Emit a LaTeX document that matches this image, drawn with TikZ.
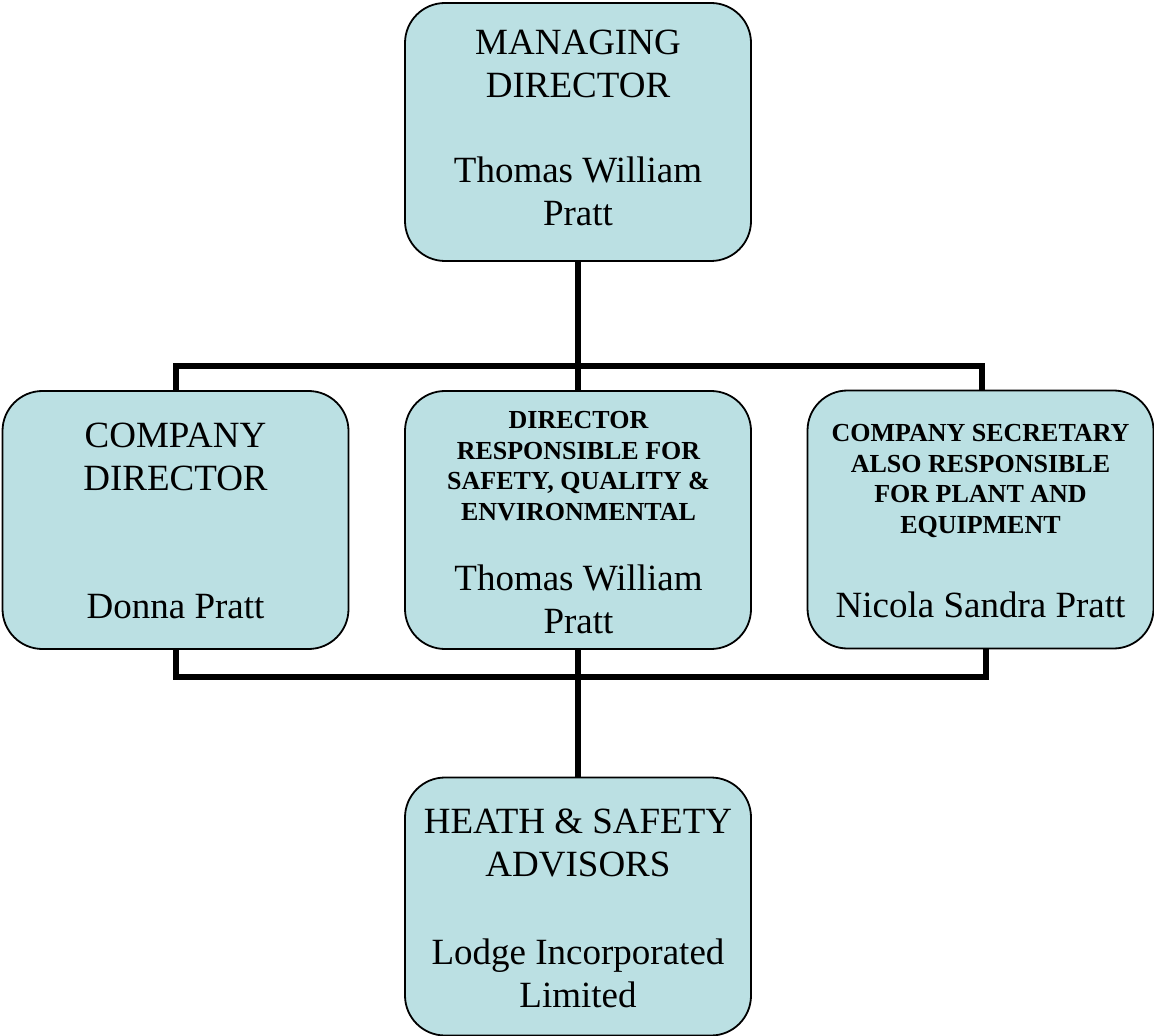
\documentclass[tikz,border=0pt]{standalone}
\usepackage{fontspec}
\setmainfont{Liberation Serif}
\definecolor{boxfill}{RGB}{187,224,227}
\tikzset{
  orgbox/.style={draw=black, line width=0.9pt, fill=boxfill, rounded corners=20pt,
    minimum width=173pt, minimum height=129pt, inner sep=0pt},
  bigtext/.style={font=\fontsize{18.5pt}{21.5pt}\selectfont, align=center, anchor=north, inner sep=0pt},
  smalltext/.style={font=\fontsize{13pt}{15.4pt}\selectfont\bfseries, align=center, anchor=north, inner sep=0pt},
  conn/.style={draw=black, line width=3pt, line join=miter}
}
\begin{document}
\begin{tikzpicture}[x=0.5pt, y=-0.5pt]
\useasboundingbox (0,0) rectangle (1154,1036);
% boxes
\node[orgbox] (md) at (578,132) {};
\node[orgbox] (cd) at (175.5,520) {};
\node[orgbox] (dr) at (578,520) {};
\node[orgbox] (cs) at (980.5,519.5) {};
\node[orgbox] (hs) at (578,906.5) {};
% connectors
\draw[conn] (md.south) -- (dr.north);
\draw[conn] (cd.north) -- ++(0,-24) -| ([xshift=0.75pt]cs.north);
\draw[conn] (cd.south) -- ++(0,27) -| ([xshift=2.75pt]cs.south);
\draw[conn] (dr.south) -- (hs.north);
% texts
\node[bigtext] (mdT) at (578,24) {\strut MANAGING\\DIRECTOR};
\node[bigtext] (mdN) at (578,152) {\strut Thomas William\\Pratt};
\node[bigtext] (cdT) at (175.5,417) {\strut COMPANY\\DIRECTOR};
\node[bigtext] (cdN) at (175.5,588) {\strut Donna Pratt};
\node[smalltext] (drT) at (578.5,406.4) {\strut DIRECTOR\\RESPONSIBLE FOR\\SAFETY, QUALITY \&\\ENVIRONMENTAL};
\node[bigtext] (drN) at (578.5,560) {\strut Thomas William\\Pratt};
\node[smalltext] (csT) at (980.5,419.4) {\strut COMPANY SECRETARY\\ALSO RESPONSIBLE\\FOR PLANT AND\\EQUIPMENT};
\node[bigtext] (csN) at (980.5,587) {\strut Nicola Sandra Pratt};
\node[bigtext] (hsT) at (578,803) {\strut HEATH \& SAFETY\\ADVISORS};
\node[bigtext] (hsN) at (578,934) {\strut Lodge Incorporated\\Limited};
\end{tikzpicture}
\end{document}
